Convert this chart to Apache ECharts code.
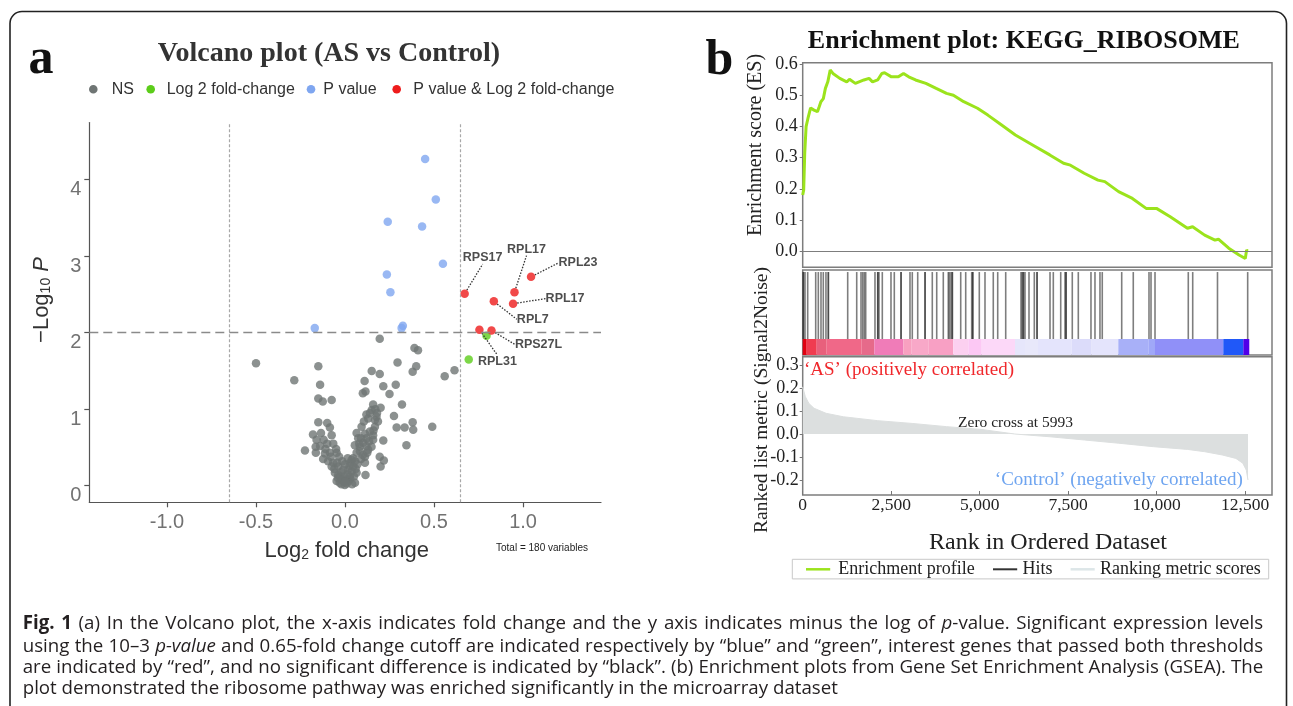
<!DOCTYPE html>
<html><head><meta charset="utf-8">
<script src="https://cdn.jsdelivr.net/npm/echarts@6/dist/echarts.min.js"></script>
<style>html,body{margin:0;padding:0;background:#fff}#c{width:1293px;height:706px}</style>
</head><body><div id="c"></div>
<script>
// ---------- Volcano plot data (log2 fold change, -log10 P) ----------
const nsPoints = [
[-0.50,1.60],[-0.15,1.56],[-0.285,1.38],[-0.14,1.32],[-0.15,1.14],[-0.125,1.10],[-0.075,1.12],
[0.195,1.92],[0.39,1.80],[0.41,1.77],[0.295,1.61],[0.40,1.56],[0.38,1.49],[0.15,1.50],[0.195,1.46],
[0.11,1.37],[0.215,1.30],[0.285,1.32],[0.115,1.23],[0.10,1.21],[0.25,1.20],[0.56,1.43],[0.615,1.51],
[0.32,1.06],[0.275,0.91],[0.29,0.76],[0.335,0.76],[0.38,0.83],[0.383,0.73],[0.49,0.77],[0.345,0.53],
[0.215,0.59],[0.158,1.06],[0.15,0.99],[0.12,0.93],[0.177,0.90],[0.13,0.88],[0.185,0.84],[0.168,0.77],
[0.093,0.77],[0.158,0.66],[0.12,0.62],[0.065,0.69],[0.055,0.53],[0.083,0.51],[0.13,0.47],[0.112,0.38],
[0.195,0.38],[0.218,0.33],[0.20,0.25],[0.115,0.14],
[-0.15,0.83],[-0.10,0.82],[-0.085,0.76],[-0.18,0.67],[-0.135,0.69],[-0.075,0.66],[-0.16,0.60],
[-0.10,0.55],[-0.066,0.55],[-0.165,0.51],[-0.225,0.46],[-0.164,0.43],[-0.113,0.42],[-0.085,0.43],
[-0.047,0.43],[-0.033,0.38],[-0.123,0.35],[-0.095,0.32],[-0.066,0.30],[-0.038,0.25],[-0.057,0.17],
[-0.029,0.12],[-0.01,0.06],[-0.001,0.01],[0.009,0.08],[0.027,0.12],[0.037,0.19],[0.046,0.25],
[0.056,0.32],[0.056,0.04],[-0.019,0.08],[-0.038,0.14],[0.018,0.21],[0.037,0.34],[0.065,0.43],
[0.084,0.45],[0.102,0.56],[0.112,0.30],[0.125,0.43],[0.14,0.71],[0.149,0.51],[0.158,0.60],[0.168,0.86],
[0.14,0.95],[0.106,0.84],[0.112,0.68],[0.074,0.62],[-0.01,0.21],[-0.047,0.06],[0.065,0.17],
[-0.02,0.02],[0.01,0.03],[0.02,0.06],[-0.03,0.04],[0.03,0.09],[-0.005,0.12],[0.015,0.15],[-0.02,0.18],
[0.025,0.26],[0.0,0.28],[-0.015,0.32],[0.03,0.30],[0.045,0.36],[0.06,0.22],[-0.06,0.22],[-0.075,0.25],
[-0.045,0.30],[-0.08,0.38],[0.07,0.28],[0.09,0.35],[0.10,0.40],[0.08,0.55],[0.09,0.62],[0.12,0.52],
[0.135,0.58],[-0.11,0.48],[-0.14,0.52],[-0.05,0.48],[0.04,0.02],[-0.04,0.10],[0.05,0.12],[0.0,0.05],
[0.015,0.36],[0.16,0.72],[0.18,0.95],[0.17,1.00],[0.20,1.02],[-0.12,0.60]
];
const fcOnlyPoints = [[0.795,1.96],[0.695,1.65]];
const pOnlyPoints = [[-0.17,2.06],[0.325,2.09],[0.318,2.06],[0.45,4.27],[0.51,3.74],[0.24,3.45],
[0.433,3.39],[0.55,2.90],[0.235,2.76],[0.255,2.53]];
const bothPoints = [[0.672,2.51],[0.952,2.53],[1.045,2.73],[0.944,2.38],[0.836,2.41],[0.823,2.03],[0.755,2.04]];
const bothGenes = ['RPS17','RPL17','RPL23','RPL17','RPL7','RPS27L','RPL31'];
const fcCutoffs = [-0.65, 0.65];
const pCutoffs = [2];
const volcanoXTicks = [-1.0,-0.5,0.0,0.5,1.0];
const volcanoYTicks = [0,1,2,3,4];

// ---------- GSEA data ----------
const esRank = [0,28,57,96,155,223,320,417,466,514,583,641,709,777,855,1049,1244,1321,1487,1730,1875,1973,
2118,2235,2312,2507,2702,2848,2994,3188,3480,3771,4063,4257,4549,4938,5230,5619,6008,6494,6980,7369,7563,
7952,8341,8535,8924,9313,9702,9994,10383,10869,11015,11355,11647,11744,12036,12328,12503,12541,12571];
const esScore = [0.18,0.196,0.314,0.40,0.43,0.46,0.453,0.448,0.464,0.48,0.49,0.523,0.544,0.582,0.571,0.555,
0.544,0.552,0.539,0.55,0.555,0.544,0.55,0.571,0.573,0.56,0.56,0.571,0.56,0.55,0.539,0.523,0.507,0.501,0.48,
0.459,0.437,0.405,0.373,0.341,0.309,0.282,0.276,0.25,0.228,0.223,0.191,0.169,0.137,0.137,0.11,0.073,0.078,
0.051,0.035,0.038,0.009,-0.013,-0.024,0.003,0.0];
const hitRanks = [17,20,65,141,367,441,517,582,657,723,726,1271,1526,1647,1695,1740,1780,2042,2119,2122,2155,
2249,2494,2588,2777,2780,3031,3096,3249,3455,3458,3661,3786,3972,4113,4141,4189,4226,4229,4464,4605,4774,
4803,4806,4989,5150,5384,5509,5735,6167,6200,6232,6235,6280,6393,6543,6619,6622,6987,7080,7289,7410,7439,
7442,7616,7786,8144,8257,8398,8463,9012,9339,9783,9840,9953,10893,11018,11718,12571];
const metricRank = [0,28,76,175,320,661,1147,2121,3093,4066,5040,5993,6986,7958,8930,9905,10876,11362,
11851,12238,12433,12532,12580];
const metricValue = [0.205,0.199,0.162,0.133,0.112,0.09,0.075,0.058,0.046,0.032,0.02,0.0,-0.012,-0.026,
-0.04,-0.055,-0.067,-0.077,-0.091,-0.106,-0.127,-0.157,-0.20];
const barEdges = [0,113,396,678,1667,2023,2842,3079,3548,4254,4678,5057,5997,6280,6647,7599,8164,8916,
9763,9952,11882,12447,12616];
const barColors = ['#e00010','#f03c50','#e8607c','#f06888','#e66a8a','#f07cb8','#f8a0c0','#f8a8c8','#f8a0c4',
'#fcd0f0','#fcc8f4','#fcd8f8','#e6e6fb','#e8e8fa','#e4e4fc','#dcdcfa','#e4e4fc','#a8b0f8','#a0a8f8',
'#9090f8','#2058f8','#5000e8'];
const zeroCross = 5993;
const rankTicks = [0,2500,5000,7500,10000,12500];
const esTicks = [0,0.1,0.2,0.3,0.4,0.5,0.6];
const metricTicks = [-0.2,-0.1,0,0.1,0.2,0.3];

const captionLines = [
  '{b|Fig.} {b|1} (a) In the Volcano plot, the x-axis indicates fold change and the y axis indicates minus the log of {i|p}-value. Significant expression levels',
  'using the 10–3 {i|p-value} and 0.65-fold change cutoff are indicated respectively by “blue” and “green”, interest genes that passed both thresholds',
  'are indicated by “red”, and no significant difference is indicated by “black”. (b) Enrichment plots from Gene Set Enrichment Analysis (GSEA). The',
  'plot demonstrated the ribosome pathway was enriched significantly in the microarray dataset'
];

// ---------- chart ----------
const SANS = 'Liberation Sans', SERIF = 'Liberation Serif';
const chart = echarts.init(document.getElementById('c'), null, {renderer: 'canvas'});

const labelOffsets = [[18,-36],[12,-43],[47,-14],[52,-5],[39,18],[47,14],[18,32]];

function txt(x, y, text, font, fill, align, vAlign, extra) {
  return Object.assign({type:'text', x, y, silent:true,
    style: {text, font, fill, align: align || 'left', verticalAlign: vAlign || 'middle'}}, extra || {});
}
const segData = barColors.map((c, i) => [barEdges[i], barEdges[i + 1], i]);
const fmtRank = v => v === 0 ? '0' : v.toLocaleString('en-US');

// justified caption layout
const CAPF = 18.7, CAP_X = 22.7, CAP_W = 1240.5, CAP_Y = [623.3, 646.3, 667.8, 688.8];
const capFont = s => (s === 'b' ? 'bold ' : s === 'i' ? 'italic ' : '') + CAPF + 'px "Open Sans"';
const mctx = document.createElement('canvas').getContext('2d');
function wordWidth(w) {
  let tot = 0;
  w.replace(/\{(b|i)\|([^}]*)\}|([^{]+)/g, (m, s, t, plain) => {
    mctx.font = capFont(s || ''); tot += mctx.measureText(s ? t : plain).width; return m;
  });
  return tot;
}
const capRich = {
  b:{fontFamily:'Open Sans', fontSize:CAPF, fontWeight:'bold', fill:'#231f20'},
  i:{fontFamily:'Open Sans', fontSize:CAPF, fontStyle:'italic', fill:'#231f20'}
};
const captionEls = [];
captionLines.forEach((line, k) => {
  const words = line.split(' ');
  const widths = words.map(wordWidth);
  const sum = widths.reduce((a, b) => a + b, 0);
  mctx.font = capFont('');
  const gap = k < captionLines.length - 1 ? (CAP_W - sum) / (words.length - 1) : mctx.measureText(' ').width;
  let x = CAP_X;
  words.forEach((w, j) => {
    captionEls.push({type:'text', x, y: CAP_Y[k], silent:true,
      style:{text: w, font: capFont(''), fill:'#231f20', verticalAlign:'middle', rich: capRich}});
    x += widths[j] + gap;
  });
});

const gsGrid = {left: 802.7, width: 469.3};
const gX = (gi) => ({type:'value', gridIndex: gi, min: 0, max: 13258,
  axisLine:{show:false}, axisTick:{show:false}, axisLabel:{show:false}, splitLine:{show:false}});

const option = {
  animation: false,
  backgroundColor: '#fff',
  grid: [
    {left: 89.3, top: 122.5, width: 511.7, height: 379.8},
    {left: gsGrid.left, width: gsGrid.width, top: 62.7, height: 204.6, show: true, borderColor: '#7d7d7d', borderWidth: 1.5},
    {left: gsGrid.left, width: gsGrid.width, top: 270, height: 85, show: true, borderColor: '#7d7d7d', borderWidth: 1.5},
    {left: gsGrid.left, width: gsGrid.width, top: 356.7, height: 138.3, show: true, borderColor: '#7d7d7d', borderWidth: 1.5}
  ],
  xAxis: [
    {type:'value', gridIndex:0, min:-1.4365, max:1.438,
      axisLine:{show:true, onZero:false, lineStyle:{color:'#555', width:1.2}},
      axisTick:{show:true, customValues: volcanoXTicks, length:5, lineStyle:{color:'#555', width:1.2}},
      axisLabel:{customValues: volcanoXTicks, formatter: v => v.toFixed(1), fontFamily: SANS, fontSize: 20, color:'#727272', margin: 10},
      splitLine:{show:false}},
    gX(1), gX(2),
    {type:'value', gridIndex:3, min:0, max:13258,
      axisLine:{show:false, onZero:false},
      axisTick:{show:true, inside:true, customValues: rankTicks, length:4, lineStyle:{color:'#777'}},
      axisLabel:{customValues: rankTicks, formatter: fmtRank, fontFamily: SERIF, fontSize: 17.5, color:'#222', margin: 1},
      splitLine:{show:false}}
  ],
  yAxis: [
    {type:'value', gridIndex:0, min:-0.217, max:4.748,
      axisLine:{show:true, onZero:false, lineStyle:{color:'#555', width:1.2}},
      axisTick:{show:true, customValues: volcanoYTicks, length:5, lineStyle:{color:'#555', width:1.2}},
      axisLabel:{customValues: volcanoYTicks, fontFamily: SANS, fontSize: 20, color:'#727272', margin: 8, verticalAlign:'top'},
      splitLine:{show:false}},
    {type:'value', gridIndex:1, min:-0.0524, max:0.6055,
      axisLine:{show:false, onZero:false},
      axisTick:{show:true, customValues: esTicks, length:3, lineStyle:{color:'#777'}},
      axisLabel:{customValues: esTicks, formatter: v => v.toFixed(1), fontFamily: SERIF, fontSize: 18, color:'#222', margin: 5},
      splitLine:{show:false}},
    {type:'value', gridIndex:2, min:0, max:1, show:false},
    {type:'value', gridIndex:3, min:-0.265, max:0.336,
      axisLine:{show:false, onZero:false},
      axisTick:{show:true, customValues: metricTicks, length:3, lineStyle:{color:'#777'}},
      axisLabel:{customValues: metricTicks, formatter: v => v.toFixed(1), fontFamily: SERIF, fontSize: 18, color:'#222', margin: 4},
      splitLine:{show:false}}
  ],
  series: [
    {type:'scatter', name:'NS', xAxisIndex:0, yAxisIndex:0, data: nsPoints, symbolSize: 8.5,
      itemStyle:{color:'#6f7574'}, z: 2,
      markLine:{silent:true, symbol:'none', label:{show:false},
        data: fcCutoffs.map(v => ({xAxis: v, lineStyle:{color:'#a8a8a8', type:[3,2], width:1.2}}))
          .concat(pCutoffs.map(v => ({yAxis: v, lineStyle:{color:'#8a8a8a', type:[9,5], width:1.3}})))}},
    {type:'scatter', name:'Log 2 fold-change', xAxisIndex:0, yAxisIndex:0, data: fcOnlyPoints, symbolSize: 8.5,
      itemStyle:{color:'#5ccd1a'}, z: 3},
    {type:'scatter', name:'P value', xAxisIndex:0, yAxisIndex:0, data: pOnlyPoints, symbolSize: 8.5,
      itemStyle:{color:'#7fa6f0'}, z: 3},
    {type:'scatter', name:'P value & Log 2 fold-change', xAxisIndex:0, yAxisIndex:0, data: bothPoints, symbolSize: 8.5,
      itemStyle:{color:'#ee1c1c'}, z: 4,
      label:{show:true, position:'inside', formatter: p => bothGenes[p.dataIndex],
        fontFamily: SANS, fontWeight:'bold', fontSize: 12.5, color:'#222', textBorderWidth: 0},
      labelLine:{show:true, lineStyle:{type:[1.5,1.5], color:'#333', width:1.3}},
      labelLayout: p => ({dx: labelOffsets[p.dataIndex][0], dy: labelOffsets[p.dataIndex][1]})},

    {type:'line', xAxisIndex:1, yAxisIndex:1, data: esRank.map((r, i) => [r, esScore[i]]),
      showSymbol:false, lineStyle:{color:'#9be31c', width:3}, z: 3,
      markLine:{silent:true, symbol:'none', label:{show:false}, lineStyle:{color:'#7d7d7d', type:'solid', width:1.2},
        data:[{yAxis:0}]}},
    {type:'custom', xAxisIndex:2, yAxisIndex:2, data: hitRanks.map(r => [r, 1]), encode:{x:0, y:1},
      renderItem: (params, api) => {
        const a = api.coord([api.value(0), 0.976]);
        const b = api.coord([api.value(0), 0.188]);
        return {type:'line', shape:{x1:a[0], y1:a[1], x2:b[0], y2:b[1]},
          style:{stroke:'rgba(40,40,40,0.6)', lineWidth:1.6}};
      }},
    {type:'custom', xAxisIndex:2, yAxisIndex:2, data: segData, encode:{x:[0,1]},
      renderItem: (params, api) => {
        const a = api.coord([api.value(0), 0.188]);
        const b = api.coord([api.value(1), 0]);
        return {type:'rect', shape:{x:a[0], y:a[1], width:b[0]-a[0], height:b[1]-a[1]},
          style:{fill: barColors[api.value(2)]}};
      }},
    {type:'line', xAxisIndex:3, yAxisIndex:3, data: metricRank.map((r, i) => [r, metricValue[i]]),
      showSymbol:false, lineStyle:{color:'#dcdfdf', width:1}, areaStyle:{color:'#dcdfdf', opacity:1}, z: 1}
  ],
  graphic: [
    {type:'rect', silent:true, z:-1, shape:{x:10, y:11.5, width:1276.5, height:760, r:12},
      style:{stroke:'#222', lineWidth:1.6, fill:null}},
    txt(41, 60, 'a', 'bold 50px ' + SERIF, '#111', 'center'),
    txt(719.5, 61, 'b', 'bold 50px ' + SERIF, '#111', 'center'),
    // volcano title & legend
    txt(329, 53.3, 'Volcano plot (AS vs Control)', 'bold 28px ' + SERIF, '#333', 'center'),
    {type:'circle', silent:true, shape:{cx:93.3, cy:89.3, r:4.3}, style:{fill:'#6f7574'}},
    {type:'circle', silent:true, shape:{cx:150.7, cy:89.3, r:4.3}, style:{fill:'#5ccd1a'}},
    {type:'circle', silent:true, shape:{cx:311, cy:89.3, r:4.3}, style:{fill:'#7fa6f0'}},
    {type:'circle', silent:true, shape:{cx:396.7, cy:89.3, r:4.3}, style:{fill:'#ee1c1c'}},
    txt(111.7, 89.3, 'NS', '16px ' + SANS, '#333'),
    txt(166.7, 89.3, 'Log 2 fold-change', '16px ' + SANS, '#333'),
    txt(323.3, 89.3, 'P value', '16px ' + SANS, '#333'),
    txt(413.3, 89.3, 'P value & Log 2 fold-change', '16px ' + SANS, '#333'),
    // volcano axis titles
    {type:'text', x:40, y:300, rotation: Math.PI/2, silent:true, style:{
      text:'{a|−Log}{s|10}{b| P}', align:'center', verticalAlign:'middle',
      rich:{a:{fontFamily:SANS, fontSize:22, fill:'#333', lineHeight:26, verticalAlign:'bottom'},
            s:{fontFamily:SANS, fontSize:14, fill:'#333', lineHeight:16, verticalAlign:'bottom'},
            b:{fontFamily:SANS, fontSize:22, fontStyle:'italic', fill:'#333', lineHeight:26, verticalAlign:'bottom'}}}},
    {type:'text', x:346.7, y:549.3, silent:true, style:{
      text:'{a|Log}{s|2}{a| fold change}', align:'center', verticalAlign:'middle',
      rich:{a:{fontFamily:SANS, fontSize:22, fill:'#333', lineHeight:26, verticalAlign:'bottom'},
            s:{fontFamily:SANS, fontSize:14, fill:'#333', lineHeight:16, verticalAlign:'bottom'}}}},
    txt(496, 548.7, 'Total = 180 variables', '10px ' + SANS, '#222'),
    // GSEA texts
    txt(1023.8, 41.7, 'Enrichment plot: KEGG_RIBOSOME', 'bold 26px ' + SERIF, '#111', 'center'),
    txt(755.5, 145, 'Enrichment score (ES)', '20px ' + SERIF, '#222', 'center', 'middle', {rotation: Math.PI/2}),
    txt(762, 400, 'Ranked list metric (Signal2Noise)', '19.5px ' + SERIF, '#222', 'center', 'middle', {rotation: Math.PI/2}),
    txt(1048, 542.5, 'Rank in Ordered Dataset', '24px ' + SERIF, '#222', 'center'),
    txt(804, 370, '‘AS’ (positively correlated)', '19px ' + SERIF, '#f0282c', 'left'),
    txt(1242.8, 480, '‘Control’ (negatively correlated)', '19px ' + SERIF, '#6fa5f0', 'right'),
    txt(1015.5, 423.3, 'Zero cross at ' + zeroCross, '15.5px ' + SERIF, '#222', 'center'),
    // GSEA legend
    {type:'rect', silent:true, shape:{x:792.3, y:559.3, width:476.4, height:19.6}, style:{fill:'#fff', stroke:'#c8c8c8', lineWidth:1}},
    {type:'line', silent:true, shape:{x1:806, y1:569.3, x2:830.2, y2:569.3}, style:{stroke:'#9be31c', lineWidth:2.5}},
    {type:'line', silent:true, shape:{x1:993, y1:569.3, x2:1017.2, y2:569.3}, style:{stroke:'#333', lineWidth:2}},
    {type:'line', silent:true, shape:{x1:1070.6, y1:569.3, x2:1094.7, y2:569.3}, style:{stroke:'#dde6e8', lineWidth:2.5}},
    txt(838.2, 569.3, 'Enrichment profile', '18px ' + SERIF, '#222'),
    txt(1022.4, 569.3, 'Hits', '18px ' + SERIF, '#222'),
    txt(1099.9, 569.3, 'Ranking metric scores', '18px ' + SERIF, '#222'),
    ...captionEls
  ]
};
chart.setOption(option);
</script>
</body></html>
